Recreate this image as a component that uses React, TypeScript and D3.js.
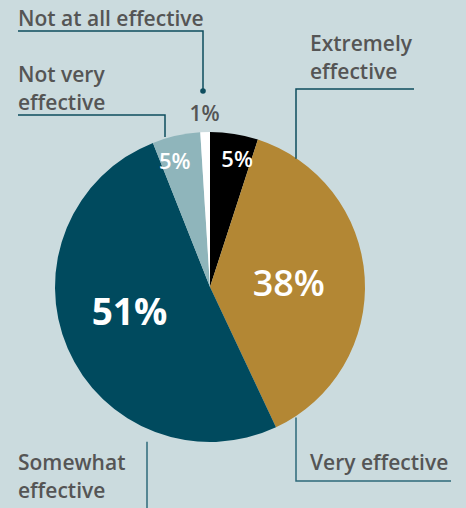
import React from "react";
import * as d3 from "d3";

const categories = ["Extremely effective", "Very effective", "Somewhat effective", "Not very effective", "Not at all effective"];
const values = [5, 38, 51, 5, 1];
const valueLabels = ["5%", "38%", "51%", "5%", "1%"];
const colors = ["#000000", "#b38734", "#004a5e", "#8fb5bb", "#ffffff"];

const W = 466, H = 508;
const cx = 210, cy = 287, R = 155;

export default function App() {
  const pie = d3.pie<number>().sort(null).value((d) => d)(values);
  const arc = d3.arc<d3.PieArcDatum<number>>().innerRadius(0).outerRadius(R);
  const pt = (a: number, r: number) => [cx + r * Math.sin(a), cy - r * Math.cos(a)];
  const mid = (i: number) => (pie[i].startAngle + pie[i].endAngle) / 2;

  const lineCol = "#0e4d5e";
  const textCol = "#555555";
  const font = "'Open Sans', sans-serif";

  // percentage label positions computed from angles
  const pctPos = [
    pt(mid(0) + 0.05, 132),
    pt(mid(1), 79),
    pt(mid(2) + 0.12, 84),
    pt(mid(3) - 0.05, 132),
    pt(mid(4), 174),
  ];
  const pctSize = [22, 36, 37, 22, 21];
  const pctWeight = [600, 600, 700, 600, 600];
  const pctColor = ["#fff", "#fff", "#fff", "#fff", textCol];

  // leader anchors on the pie edge
  const eA = pt(pie[0].endAngle - 0.02, R); // extremely
  const vA = pt(pie[1].endAngle - 0.13, R); // very
  const sA = pt(pie[2].startAngle + 0.38, R); // somewhat
  const nvA = pt(pie[3].startAngle + 0.12, R); // not very

  const labelStyle = { fontFamily: font, fontWeight: 600, fontSize: 21, fill: textCol } as const;

  return (
    <svg width={W} height={H} style={{ position: "absolute", left: 0, top: 0, display: "block" }}>
      <rect x={0} y={0} width={W} height={H} fill="#cbdbde" />
      <g transform={`translate(${cx},${cy})`}>
        {pie.map((p, i) => (
          <path key={categories[i]} d={arc(p) || ""} fill={colors[i]} />
        ))}
      </g>
      {pie.map((p, i) => (
        <text
          key={"p" + i}
          x={pctPos[i][0]}
          y={pctPos[i][1]}
          textAnchor="middle"
          dominantBaseline="central"
          style={{ fontFamily: font, fontWeight: pctWeight[i], fontSize: pctSize[i], fill: pctColor[i] }}
        >
          {valueLabels[i]}
        </text>
      ))}
      {/* Not at all effective */}
      <polyline points={`18,31 203,31 203,91`} fill="none" stroke={lineCol} strokeWidth={1.5} />
      <circle cx={203} cy={91} r={2.8} fill={lineCol} />
      <text x={18} y={26} style={labelStyle}>{categories[4]}</text>
      {/* Not very effective */}
      <polyline points={`18,115 165,115 165,${nvA[1]}`} fill="none" stroke={lineCol} strokeWidth={1.5} />
      <text x={18} y={82} style={labelStyle}>Not very</text>
      <text x={18} y={110} style={labelStyle}>effective</text>
      {/* Extremely effective */}
      <polyline points={`414,89 296,89 296,${eA[1] + 20}`} fill="none" stroke={lineCol} strokeWidth={1.5} />
      <text x={310} y={51} style={labelStyle}>Extremely</text>
      <text x={310} y={79} style={labelStyle}>effective</text>
      {/* Very effective */}
      <polyline points={`296,${vA[1]} 296,481 451,481`} fill="none" stroke="#2e6a7a" strokeWidth={1.5} />
      <text x={310} y={470} style={labelStyle}>{categories[1]}</text>
      {/* Somewhat effective */}
      <line x1={147} y1={sA[1]} x2={147} y2={H} stroke="#2e6a7a" strokeWidth={1.5} />
      <text x={18} y={470} style={labelStyle}>Somewhat</text>
      <text x={18} y={498} style={labelStyle}>effective</text>
    </svg>
  );
}
